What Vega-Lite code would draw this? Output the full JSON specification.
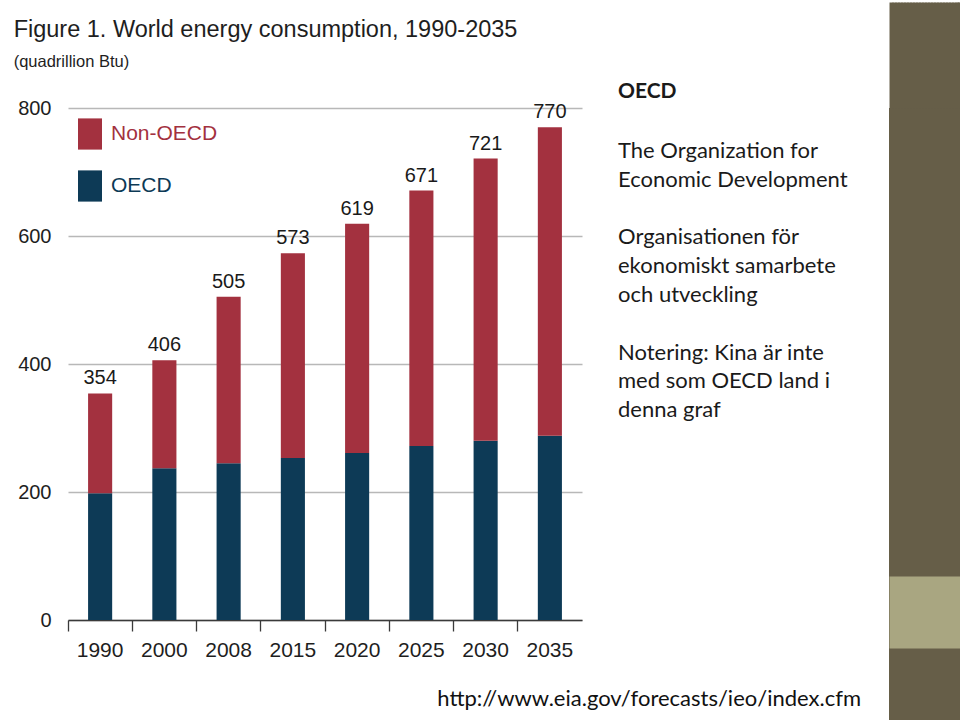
{
  "$schema": "https://vega.github.io/schema/vega-lite/v6.json",
  "background": "white",
  "padding": {"left": 13, "top": 0, "right": 0, "bottom": 0},
  "config": {"view": {"stroke": null}},
  "title": {
    "text": "http://www.eia.gov/forecasts/ieo/index.cfm",
    "orient": "bottom",
    "anchor": "end",
    "frame": "bounds",
    "offset": -31,
    "dx": -100,
    "font": "Lato",
    "fontSize": 22,
    "fontWeight": "normal",
    "color": "#111111"
  },
  "concat": [
    {
      "width": 514,
      "height": 512,
      "title": {
        "text": "Figure 1. World energy consumption, 1990-2035",
        "subtitle": "(quadrillion Btu)",
        "anchor": "start",
        "frame": "bounds",
        "dx": -4,
        "offset": 28,
        "font": "Liberation Sans",
        "fontSize": 23.5,
        "fontWeight": "normal",
        "color": "#1e1e1e",
        "subtitleFont": "Liberation Sans",
        "subtitleFontSize": 16.5,
        "subtitleColor": "#1e1e1e",
        "subtitlePadding": 12
      },
      "data": {
        "values": [
          {"year": "1990", "series": "OECD", "value": 198},
          {"year": "1990", "series": "Non-OECD", "value": 156},
          {"year": "2000", "series": "OECD", "value": 237},
          {"year": "2000", "series": "Non-OECD", "value": 169},
          {"year": "2008", "series": "OECD", "value": 245},
          {"year": "2008", "series": "Non-OECD", "value": 260},
          {"year": "2015", "series": "OECD", "value": 253},
          {"year": "2015", "series": "Non-OECD", "value": 320},
          {"year": "2020", "series": "OECD", "value": 261},
          {"year": "2020", "series": "Non-OECD", "value": 358},
          {"year": "2025", "series": "OECD", "value": 272},
          {"year": "2025", "series": "Non-OECD", "value": 399},
          {"year": "2030", "series": "OECD", "value": 280},
          {"year": "2030", "series": "Non-OECD", "value": 441},
          {"year": "2035", "series": "OECD", "value": 288},
          {"year": "2035", "series": "Non-OECD", "value": 482}
        ]
      },
      "encoding": {
        "x": {
          "field": "year",
          "type": "ordinal",
          "scale": {"paddingInner": 0, "paddingOuter": 0},
          "axis": {
            "title": null,
            "bandPosition": 0,
            "labelOffset": 0,
            "labelAngle": 0,
            "labelFont": "Liberation Sans",
            "labelFontSize": 21,
            "labelColor": "#1e1e1e",
            "labelPadding": 8,
            "domainColor": "#3a3a3a",
            "domainWidth": 1.5,
            "tickColor": "#3a3a3a",
            "tickWidth": 1.3,
            "tickSize": 11,
            "grid": false
          }
        }
      },
      "layer": [
        {
          "mark": {"type": "bar", "width": {"band": 0.375}},
          "encoding": {
            "y": {
              "field": "value",
              "type": "quantitative",
              "stack": "zero",
              "scale": {"domain": [0, 800], "nice": false},
              "axis": {
                "title": null,
                "values": [0, 200, 400, 600, 800],
                "domain": false,
                "ticks": false,
                "tickSize": 0,
                "labelPadding": 17,
                "labelFont": "Liberation Sans",
                "labelFontSize": 20,
                "labelColor": "#1e1e1e",
                "grid": true,
                "gridColor": "#b8b8b8",
                "gridWidth": 1.4
              }
            },
            "color": {
              "field": "series",
              "type": "nominal",
              "scale": {"domain": ["Non-OECD", "OECD"], "range": ["#a3313f", "#0d3a56"]},
              "legend": {
                "title": null,
                "orient": "none",
                "legendX": 10,
                "legendY": 14,
                "padding": 0,
                "symbolType": "M-1,-1.3H1V1.3H-1Z",
                "symbolSize": 576,
                "symbolStrokeWidth": 0,
                "symbolOpacity": 1,
                "labelFont": "Liberation Sans",
                "labelFontSize": 21,
                "labelOffset": 9,
                "rowPadding": 20,
                "labelColor": {"expr": "datum.label === 'OECD' ? '#0d3a56' : '#a3313f'"}
              }
            },
            "order": {"field": "series", "sort": "descending"}
          }
        },
        {
          "transform": [
            {"aggregate": [{"op": "sum", "field": "value", "as": "total"}], "groupby": ["year"]}
          ],
          "mark": {
            "type": "text",
            "baseline": "alphabetic",
            "dy": -9,
            "font": "Liberation Sans",
            "fontSize": 20,
            "color": "#1a1a1a"
          },
          "encoding": {
            "y": {"field": "total", "type": "quantitative"},
            "text": {"field": "total", "type": "quantitative"}
          }
        }
      ]
    },
    {
      "width": 235,
      "height": 1,
      "data": {"values": []},
      "mark": "point",
      "title": {
        "text": "OECD",
        "orient": "bottom",
        "subtitle": ["The Organization for", "Economic Development", "\u2800", "Organisationen för", "ekonomiskt samarbete", "och utveckling", "\u2800", "Notering: Kina är inte", "med som OECD land i", "denna graf"],
        "anchor": "start",
        "frame": "group",
        "offset": -28,
        "font": "Lato",
        "fontSize": 21,
        "fontWeight": "bold",
        "color": "#1a1a1a",
        "subtitleFont": "Lato",
        "subtitleFontSize": 22,
        "subtitleFontWeight": "normal",
        "subtitleLineHeight": 28.8,
        "subtitleColor": "#1a1a1a",
        "subtitlePadding": 39
      }
    },
    {
      "width": 72,
      "height": 612,
      "data": {"values": []},
      "mark": "point",
      "view": {"fill": "#665e48", "stroke": null},
      "encoding": {
        "x": {
          "field": "a",
          "type": "quantitative",
          "scale": {"domain": [0, 72]},
          "axis": {"orient": "top", "values": [2, 5, 8, 11, 14, 17, 20, 23, 26, 29, 32, 35, 38, 41, 44, 47, 50, 53, 56, 59, 62, 65, 68, 70], "domain": false, "labels": false, "title": null, "grid": false, "ticks": true, "tickSize": 106, "tickWidth": 4, "tickCap": "butt", "tickColor": "#665e48"}
        },
        "y": {
          "field": "b",
          "type": "quantitative",
          "scale": {"domain": [0, 612]},
          "axis": {"values": [108], "domain": false, "labels": false, "ticks": false, "title": null, "grid": true, "gridColor": "#a9a681", "gridWidth": 72}
        }
      }
    }
  ],
  "columns": 3,
  "align": "none",
  "spacing": 36
}
